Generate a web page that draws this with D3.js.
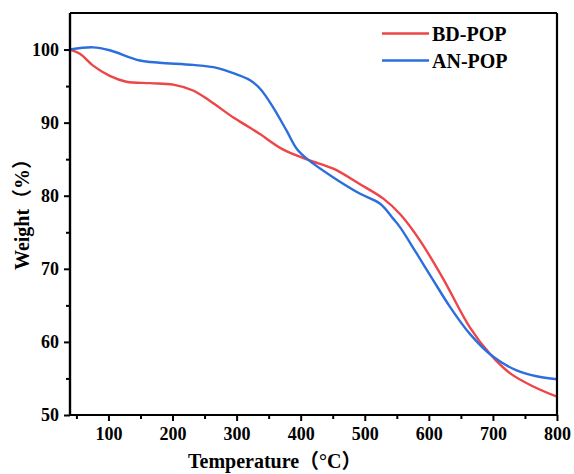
<!DOCTYPE html>
<html><head><meta charset="utf-8">
<script src="https://cdn.jsdelivr.net/npm/d3@7"></script>
<style>body{margin:0;background:#fff}svg{display:block}</style>
</head><body>
<svg id="c" width="574" height="474"></svg>
<script>
const bdTemp = [40, 56, 76, 102, 128, 165, 201, 232, 258, 295, 321, 337, 373, 412, 451, 492, 529, 556, 586, 622, 664, 695, 727, 763, 800];
const bdWeight = [100, 99.4, 97.8, 96.4, 95.6, 95.4, 95.2, 94.4, 93.0, 90.7, 89.3, 88.4, 86.3, 84.9, 83.7, 81.6, 79.6, 77.4, 73.9, 68.7, 62.0, 58.4, 55.7, 53.9, 52.5];
const anTemp = [40, 76, 102, 149, 180, 232, 269, 300, 321, 337, 357, 378, 394, 412, 451, 492, 524, 545, 555, 581, 605, 633, 664, 700, 737, 768, 800];
const anWeight = [100, 100.3, 99.9, 98.5, 98.2, 97.9, 97.5, 96.6, 95.8, 94.6, 92.1, 88.9, 86.4, 84.9, 82.5, 80.3, 78.9, 76.8, 75.7, 72.1, 68.7, 64.8, 61.1, 58.0, 56.1, 55.3, 54.9];
const seriesNames = ["BD-POP", "AN-POP"];
const seriesColors = ["#ee4549", "#2b6fdc"];
const xTicks = [100, 200, 300, 400, 500, 600, 700, 800];
const yTicks = [50, 60, 70, 80, 90, 100];

const svg = d3.select("#c");
const L = 70, R = 557, T = 13, B = 415;
const x = d3.scaleLinear().domain([40, 800]).range([L, R]);
const y = d3.scaleLinear().domain([50, 105]).range([B, T]);
const serif = "'Liberation Serif','Times New Roman',serif";
const cjk = "'Liberation Serif','Noto Sans CJK SC',serif";

// curves
const line = d3.line().x(d => x(d[0])).y(d => y(d[1])).curve(d3.curveCatmullRom.alpha(0.5));
const data = [bdTemp.map((t, i) => [t, bdWeight[i]]), anTemp.map((t, i) => [t, anWeight[i]])];
svg.append("g").selectAll("path").data(data).join("path")
  .attr("d", line).attr("fill", "none")
  .attr("stroke", (d, i) => seriesColors[i]).attr("stroke-width", 2.4);

// frame top/right
svg.append("line").attr("x1", L).attr("x2", R).attr("y1", T).attr("y2", T).attr("stroke", "#000").attr("stroke-width", 2.2);
svg.append("line").attr("x1", R).attr("x2", R).attr("y1", T).attr("y2", B).attr("stroke", "#000").attr("stroke-width", 2.2);

// axes
const xMinor = d3.range(50, 801, 100);
const yMinor = d3.range(55, 105, 10);
const gx = svg.append("g").attr("transform", `translate(0,${B})`);
gx.call(d3.axisBottom(x).tickValues(xTicks).tickSize(6).tickPadding(6).tickFormat(d3.format("d")));
gx.append("g").call(d3.axisBottom(x).tickValues(xMinor).tickSize(4).tickFormat(""));
const gy = svg.append("g").attr("transform", `translate(${L},0)`);
gy.call(d3.axisLeft(y).tickValues(yTicks).tickSize(6).tickPadding(5).tickFormat(d3.format("d")));
gy.append("g").call(d3.axisLeft(y).tickValues(yMinor).tickSize(4).tickFormat(""));
svg.selectAll(".domain").attr("stroke", "#000").attr("stroke-width", 2.2);
svg.selectAll(".tick line").attr("stroke", "#000").attr("stroke-width", 2);
svg.selectAll(".tick text").attr("font-family", serif).attr("font-weight", "bold").attr("font-size", 18).attr("fill", "#000");
gx.selectAll(".domain").attr("d", `M${L},0H${R}`);
gy.selectAll(".domain").attr("d", `M0,${B}V${T}`);

// axis titles
svg.append("text").attr("x", 188).attr("y", 468).attr("font-family", cjk).attr("font-weight", "bold").attr("font-size", 20).text("Temperature（°C）");
svg.append("text").attr("transform", "translate(29,270) rotate(-90)").attr("font-family", cjk).attr("font-weight", "bold").attr("font-size", 20).text("Weight（%）");

// legend
const lg = svg.append("g");
seriesNames.forEach((n, i) => {
  const yy = 33.5 + i * 27;
  lg.append("line").attr("x1", 382).attr("x2", 429).attr("y1", yy).attr("y2", yy).attr("stroke", seriesColors[i]).attr("stroke-width", 2.6);
  lg.append("text").attr("x", 432).attr("y", yy + 7).attr("font-family", serif).attr("font-weight", "bold").attr("font-size", 20).text(n);
});
</script>
</body></html>
